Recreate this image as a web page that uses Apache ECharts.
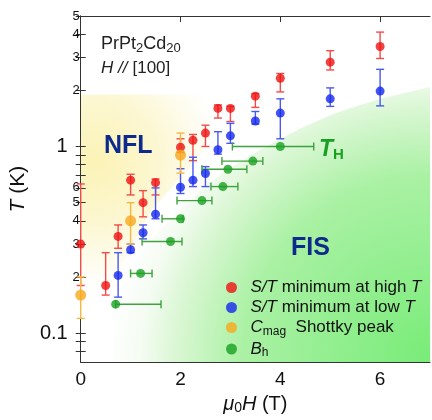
<!DOCTYPE html>
<html>
<head>
<meta charset="utf-8">
<script src="https://cdn.jsdelivr.net/npm/echarts@6/dist/echarts.min.js"></script>
<style>
  html, body { margin: 0; padding: 0; background: #fff; }
  #chart { width: 432px; height: 420px; }
</style>
</head>
<body>
<div id="chart"></div>
<script>
// S/T minimum at high T (red)
const highX = [0, 0.5, 0.75, 1, 1.25, 1.5, 2, 2.25, 2.5, 2.75, 3, 3.5, 4, 5, 6];
const highY = [0.3, 0.18, 0.33, 0.66, 0.5, 0.64, 0.99, 1.08, 1.18, 1.6, 1.6, 1.86, 2.32, 2.83, 3.43];
const highLo = [0.18, 0.16, 0.285, 0.55, 0.42, 0.55, 0.93, 0.84, 1.0, 1.42, 1.36, 1.62, 1.96, 2.57, 2.96];
const highHi = [0.63, 0.27, 0.38, 0.71, 0.58, 0.67, 1.1, 1.16, 1.3, 1.67, 1.64, 1.92, 2.46, 3.26, 4.1];

// S/T minimum at low T (blue)
const lowX = [0.75, 1, 1.25, 1.5, 2, 2.25, 2.5, 2.75, 3, 3.5, 4, 5, 6];
const lowY = [0.204, 0.28, 0.345, 0.434, 0.605, 0.66, 0.717, 0.96, 1.14, 1.37, 1.51, 1.8, 1.98];
const lowLo = [0.156, 0.27, 0.32, 0.41, 0.56, 0.61, 0.61, 0.91, 1.04, 1.32, 1.1, 1.64, 1.65];
const lowHi = [0.27, 0.3, 0.38, 0.6, 0.76, 0.876, 0.78, 1.2, 1.33, 1.54, 1.8, 2.06, 2.59];

// Cmag Shottky peak (orange)
const cmagX = [0, 1, 2];
const cmagY = [0.16, 0.4, 0.9];
const cmagLo = [0.12, 0.3, 0.72];
const cmagHi = [0.2, 0.5, 1.18];

// B_h (green), error bars along H
const bhX = [0.7, 1.2, 1.8, 2.0, 2.43, 2.85, 2.95, 3.45, 4.0];
const bhY = [0.143, 0.209, 0.31, 0.41, 0.513, 0.61, 0.755, 0.835, 1.0];
const bhLo = [0.7, 1.0, 1.23, 1.63, 1.93, 2.61, 2.43, 2.83, 3.04];
const bhHi = [1.61, 1.43, 2.03, 2.05, 2.63, 3.15, 3.33, 3.65, 4.67];

// region outlines (H, T)
const fisX = [0.18, 0.4, 0.68, 1.0, 1.48, 2.0, 2.48, 3.0, 3.68, 4.4, 5.08, 6.0, 7.0, 7.0];
const fisY = [0.07, 0.1, 0.16, 0.23, 0.334, 0.46, 0.61, 0.77, 0.99, 1.25, 1.5, 1.8, 2.08, 0.07];
const nflX = [0, 3.0, 2.4, 1.4, 0.7, 0.2, 0];
const nflY = [1.9, 1.9, 0.9, 0.45, 0.2, 0.07, 0.07];

// axis ticks
const xTicks = [0, 2, 4, 6];
const yTicks = [0.08, 0.09, 0.1, 0.2, 0.3, 0.4, 0.5, 0.6, 0.7, 0.8, 0.9, 1, 2, 3, 4, 5];
const yLabels = [0.1, 0.2, 0.3, 0.4, 0.5, 0.6, 1, 2, 3, 4, 5];

const FONT = "'Liberation Sans', Arial, sans-serif";
const RED = '#ee1111', BLUE = '#1428ee', ORANGE = '#f8a81c', GREEN = '#18a020';
const NAVY = '#0d2a8c';

const chart = echarts.init(document.getElementById('chart'));

function zip3(a, b, c) { return a.map((v, i) => [v, b[i], c[i]]); }
function zip2(a, b) { return a.map((v, i) => [v, b[i]]); }

function vErr(color) {
  return function (params, api) {
    const x = api.value(0);
    const p1 = api.coord([x, api.value(1)]);
    const p2 = api.coord([x, api.value(2)]);
    const w = 4;
    const st = { stroke: color, lineWidth: 1.4 };
    return {
      type: 'group',
      children: [
        { type: 'line', shape: { x1: p1[0], y1: p1[1], x2: p2[0], y2: p2[1] }, style: st },
        { type: 'line', shape: { x1: p1[0] - w, y1: p1[1], x2: p1[0] + w, y2: p1[1] }, style: st },
        { type: 'line', shape: { x1: p2[0] - w, y1: p2[1], x2: p2[0] + w, y2: p2[1] }, style: st }
      ]
    };
  };
}

function hErr(color) {
  return function (params, api) {
    const y = api.value(1);
    const p1 = api.coord([api.value(0), y]);
    const p2 = api.coord([api.value(2), y]);
    const w = 4;
    const st = { stroke: color, lineWidth: 1.4 };
    return {
      type: 'group',
      children: [
        { type: 'line', shape: { x1: p1[0], y1: p1[1], x2: p2[0], y2: p2[1] }, style: st },
        { type: 'line', shape: { x1: p1[0], y1: p1[1] - w, x2: p1[0], y2: p1[1] + w }, style: st },
        { type: 'line', shape: { x1: p2[0], y1: p2[1] - w, x2: p2[0], y2: p2[1] + w }, style: st }
      ]
    };
  };
}

function region(xs, ys, fill) {
  return function (params, api) {
    const pts = xs.map((x, i) => api.coord([x, ys[i]]));
    return { type: 'polygon', shape: { points: pts }, style: { fill: fill } };
  };
}

const greenFill = new echarts.graphic.RadialGradient(1, 1, 1.17, [
  { offset: 0, color: '#78ec78' },
  { offset: 0.58, color: '#aaf1a4' },
  { offset: 0.8, color: '#dcf7d6' },
  { offset: 0.9, color: '#f5fcf3' },
  { offset: 1, color: '#ffffff' }
]);
const yellowFill = new echarts.graphic.RadialGradient(0.1, 0.25, 0.85, [
  { offset: 0, color: '#fbf3b6' },
  { offset: 0.5, color: '#fcf7d2' },
  { offset: 0.8, color: '#fefcee' },
  { offset: 1, color: '#ffffff' }
]);

const legendRich = {
  i: { fontFamily: FONT, fontSize: 17, fontStyle: 'italic', color: '#111', lineHeight: 20 },
  n: { fontFamily: FONT, fontSize: 17, color: '#111', lineHeight: 20 },
  s: { fontFamily: FONT, fontSize: 12, color: '#111', lineHeight: 12, verticalAlign: 'bottom' }
};
const legendText = {
  'S/T minimum at high T': '{i|S/T}{n| minimum at high }{i|T}',
  'S/T minimum at low T': '{i|S/T}{n| minimum at low }{i|T}',
  'Cmag Shottky peak': '{i|C}{s|mag}{n|  Shottky peak}',
  'Bh': '{i|B}{s|h}'
};

const axisLine = { show: true, lineStyle: { color: '#333', width: 1 } };

const option = {
  animation: false,
  grid: { left: 76, right: 2, top: 16, bottom: 50 },
  title: [
    {
      text: '{n|PrPt}{s|2}{n|Cd}{s|20}', left: 96, top: 28,
      textStyle: { rich: {
        n: { fontFamily: FONT, fontSize: 18, fontWeight: 'normal', color: '#222', lineHeight: 22 },
        s: { fontFamily: FONT, fontSize: 13, fontWeight: 'normal', color: '#222', lineHeight: 13, verticalAlign: 'bottom' }
      } }
    },
    {
      text: '{i|H //} {n|[100]}', left: 96, top: 54,
      textStyle: { rich: {
        i: { fontFamily: FONT, fontSize: 17, fontWeight: 'normal', fontStyle: 'italic', color: '#222' },
        n: { fontFamily: FONT, fontSize: 17, fontWeight: 'normal', color: '#222' }
      } }
    },
    {
      text: 'NFL', left: 99, top: 129,
      textStyle: { fontFamily: FONT, fontSize: 25, fontWeight: 'bold', color: NAVY }
    },
    {
      text: 'FIS', left: 286, top: 231,
      textStyle: { fontFamily: FONT, fontSize: 25, fontWeight: 'bold', color: NAVY }
    },
    {
      text: '{t|T}{s|H}', left: 314, top: 133,
      textStyle: { rich: {
        t: { fontFamily: FONT, fontSize: 23, fontWeight: 'bold', fontStyle: 'italic', color: GREEN, lineHeight: 24 },
        s: { fontFamily: FONT, fontSize: 15, fontWeight: 'bold', color: GREEN, lineHeight: 15, verticalAlign: 'bottom' }
      } }
    }
  ],
  legend: {
    orient: 'vertical', left: 226, top: 279, padding: 0,
    itemWidth: 28, itemHeight: 11, itemGap: 3,
    icon: 'circle', selectedMode: false,
    data: ['S/T minimum at high T', 'S/T minimum at low T', 'Cmag Shottky peak', 'Bh'],
    formatter: name => legendText[name],
    textStyle: { rich: legendRich }
  },
  xAxis: [
    {
      type: 'value', min: 0, max: 7, position: 'bottom',
      axisLine: axisLine,
      axisTick: { inside: true, length: 6, customValues: xTicks, lineStyle: { color: '#333' } },
      axisLabel: { customValues: xTicks, fontFamily: FONT, fontSize: 19, color: '#111', margin: 8 },
      splitLine: { show: false },
      name: '{i|μ}{s|0}{i|H}{n| (T)}', nameLocation: 'middle', nameGap: 30,
      nameTextStyle: { rich: {
        i: { fontFamily: FONT, fontSize: 20, fontStyle: 'italic', color: '#111', lineHeight: 22 },
        n: { fontFamily: FONT, fontSize: 20, color: '#111', lineHeight: 22 },
        s: { fontFamily: FONT, fontSize: 14, color: '#111', lineHeight: 14, verticalAlign: 'bottom' }
      } }
    },
    {
      type: 'value', min: 0, max: 7, position: 'top',
      axisLine: axisLine,
      axisTick: { inside: true, length: 6, customValues: xTicks, lineStyle: { color: '#333' } },
      axisLabel: { show: false },
      splitLine: { show: false }
    }
  ],
  yAxis: [
    {
      type: 'log', logBase: 10, min: 0.07, max: 5, position: 'left',
      axisLine: axisLine,
      axisTick: { inside: true, length: 5, customValues: yTicks, lineStyle: { color: '#333' } },
      axisLabel: {
        customValues: yLabels, margin: 1,
        formatter: v => {
          if (Math.abs(v - 1) < 1e-6) return '{b|1}';
          if (Math.abs(v - 0.1) < 1e-6) return '{b|0.1}';
          return '{s|' + (v < 1 ? Math.round(v * 10) : Math.round(v)) + '}';
        },
        rich: {
          b: { fontFamily: FONT, fontSize: 20, color: '#111', padding: [0, 12, 0, 0] },
          s: { fontFamily: FONT, fontSize: 13, color: '#111' }
        }
      },
      splitLine: { show: false },
      name: '{i|T}{n| (K)}', nameLocation: 'middle', nameGap: 44, nameRotate: 90,
      nameTextStyle: { rich: {
        i: { fontFamily: FONT, fontSize: 21, fontStyle: 'italic', color: '#111' },
        n: { fontFamily: FONT, fontSize: 21, color: '#111' }
      } }
    },
    {
      type: 'log', logBase: 10, min: 0.07, max: 5, position: 'right',
      axisLine: axisLine,
      axisTick: { inside: true, length: 5, customValues: yTicks, lineStyle: { color: '#333' } },
      axisLabel: { show: false },
      splitLine: { show: false }
    }
  ],
  series: [
    { type: 'custom', renderItem: region(nflX, nflY, yellowFill), data: [[1, 1]], clip: true, silent: true, z: 0 },
    { type: 'custom', renderItem: region(fisX, fisY, greenFill), data: [[1, 1]], clip: true, silent: true, z: 1 },
    { type: 'custom', renderItem: vErr('#f44a4a'), data: zip3(highX, highLo, highHi), z: 3 },
    { type: 'custom', renderItem: vErr('#4a58f2'), data: zip3(lowX, lowLo, lowHi), z: 3 },
    { type: 'custom', renderItem: vErr('#f6b845'), data: zip3(cmagX, cmagLo, cmagHi), z: 3 },
    { type: 'custom', renderItem: hErr('#3ea23e'), data: zip3(bhLo, bhY, bhHi), z: 3 },
    { name: 'S/T minimum at high T', type: 'scatter', data: zip2(highX, highY), symbolSize: 9, itemStyle: { color: RED }, z: 5 },
    { name: 'S/T minimum at low T', type: 'scatter', data: zip2(lowX, lowY), symbolSize: 9, itemStyle: { color: BLUE }, z: 5 },
    { name: 'Cmag Shottky peak', type: 'scatter', data: zip2(cmagX, cmagY), symbolSize: 11, itemStyle: { color: ORANGE }, z: 5 },
    { name: 'Bh', type: 'scatter', data: zip2(bhX, bhY), symbolSize: 9, itemStyle: { color: GREEN }, z: 5 }
  ]
};

chart.setOption(option);
</script>
</body>
</html>
